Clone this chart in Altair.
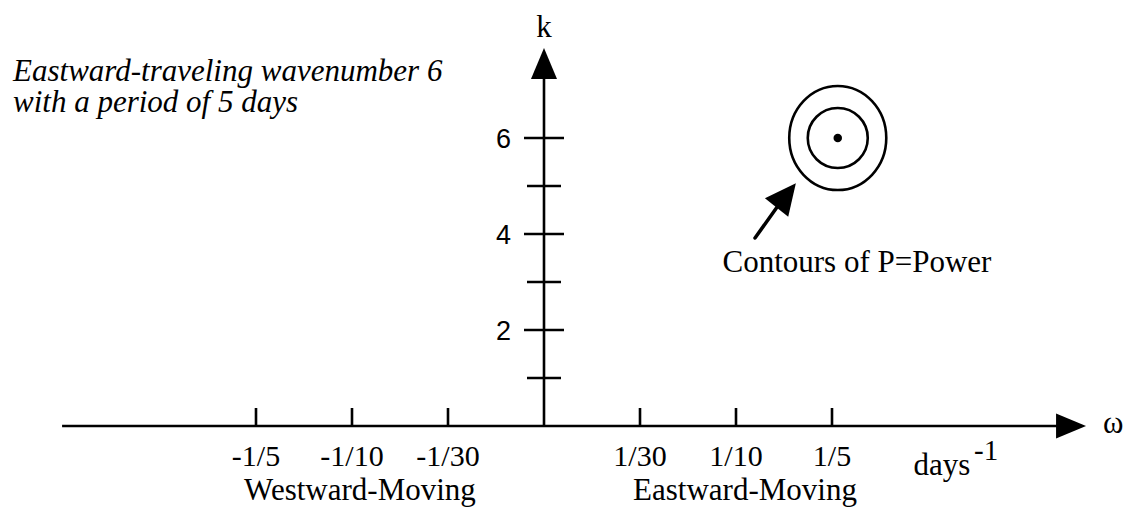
import altair as alt
import pandas as pd

# ---------------- data (diagram units: omega tick index, wavenumber k) ----------------
x_tick_pos = [-3, -2, -1, 1, 2, 3]
x_tick_labels = ["-1/5", "-1/10", "-1/30", "1/30", "1/10", "1/5"]
k_ticks = [1, 2, 3, 4, 5, 6]
k_major = [2, 4, 6]
k_label_text = ["2", "4", "6"]

power_peak = [3.06, 6.0]          # omega index, k of the power maximum
arrow_tail = [2.198, 3.917]       # annotation arrow (tail)
arrow_end = [2.458, 4.646]        # end of arrow shaft
arrow_head = [2.523, 4.807]       # centre of arrow head
x_axis_extent = [-5.02, 5.40]
y_axis_extent = [0.0, 7.40]
x_arrow_pos = [5.49, 0.0]
y_arrow_pos = [0.0, 7.552]

title_lines = ["Eastward-traveling wavenumber 6", "with a period of 5 days"]
title_pos = [-5.531, 7.1875]

# ---------------- scales ----------------
W, H = 1117, 499
PXX, PXY = 96.0, 48.0
X0, Y0 = 544.0, 426.0  # page position of origin
xdom = [(8 - X0) / PXX, (8 + W - X0) / PXX]
ydom = [(Y0 - 8 - H) / PXY, (Y0 - 8) / PXY]
xs = alt.Scale(domain=xdom, nice=False, zero=False)
ys = alt.Scale(domain=ydom, nice=False, zero=False)

SERIF = "Liberation Serif"
SANS = "Liberation Sans"

# ---------------- line segments ----------------
segs = []
segs.append(dict(x=x_axis_extent[0], x2=x_axis_extent[1], y=0.0, y2=0.0))
segs.append(dict(x=0.0, x2=0.0, y=y_axis_extent[0], y2=y_axis_extent[1]))
for k in k_ticks:
    half = (20 if k in k_major else 17) / PXX
    segs.append(dict(x=-half, x2=half, y=k, y2=k))
for xt in x_tick_pos:
    segs.append(dict(x=xt, x2=xt, y=0.0, y2=18 / PXY))
seg_df = pd.DataFrame(segs)

rules = alt.Chart(seg_df).mark_rule(color="black", strokeWidth=2.6).encode(
    x=alt.X("x:Q", scale=xs, axis=None),
    x2="x2:Q",
    y=alt.Y("y:Q", scale=ys, axis=None),
    y2="y2:Q",
)

shaft_df = pd.DataFrame([dict(x=arrow_tail[0], x2=arrow_end[0], y=arrow_tail[1], y2=arrow_end[1])])
shaft = alt.Chart(shaft_df).mark_rule(color="black", strokeWidth=3.5, strokeCap="round").encode(
    x=alt.X("x:Q", scale=xs, axis=None),
    x2="x2:Q",
    y=alt.Y("y:Q", scale=ys, axis=None),
    y2="y2:Q",
)

# ---------------- arrow heads ----------------
tri_axis = "M 0 -1 L 0.839 1 L -0.839 1 Z"
tri_note = "M 0 -1 L 0.96 1 L -0.96 1 Z"
heads_df = pd.DataFrame([
    dict(x=y_arrow_pos[0], y=y_arrow_pos[1], angle=0, size=961),
    dict(x=x_arrow_pos[0], y=x_arrow_pos[1], angle=90, size=900),
])
heads = alt.Chart(heads_df).mark_point(
    shape=tri_axis, filled=True, color="black", opacity=1, strokeWidth=0
).encode(
    x=alt.X("x:Q", scale=xs, axis=None),
    y=alt.Y("y:Q", scale=ys, axis=None),
    angle=alt.Angle("angle:Q", scale=None),
    size=alt.Size("size:Q", scale=None, legend=None),
)
note_head_df = pd.DataFrame([dict(x=arrow_head[0], y=arrow_head[1], angle=38.5, size=961)])
note_head = alt.Chart(note_head_df).mark_point(
    shape=tri_note, filled=True, color="black", opacity=1, strokeWidth=0
).encode(
    x=alt.X("x:Q", scale=xs, axis=None),
    y=alt.Y("y:Q", scale=ys, axis=None),
    angle=alt.Angle("angle:Q", scale=None),
    size=alt.Size("size:Q", scale=None, legend=None),
)

# ---------------- power contours ----------------
peak_df = pd.DataFrame([dict(x=power_peak[0], y=power_peak[1])])
ellipse_path = ("M 0.933 0 C 0.933 0.552 0.515 1 0 1 C -0.515 1 -0.933 0.552 -0.933 0 "
                "C -0.933 -0.552 -0.515 -1 0 -1 C 0.515 -1 0.933 -0.552 0.933 0 Z")
outer = alt.Chart(peak_df).mark_point(
    shape=ellipse_path, filled=False, color="black", opacity=1, strokeWidth=2.6, size=104 * 104
).encode(x=alt.X("x:Q", scale=xs, axis=None), y=alt.Y("y:Q", scale=ys, axis=None))
inner = alt.Chart(peak_df).mark_point(
    shape="circle", filled=False, color="black", opacity=1, strokeWidth=2.6, size=60 * 60
).encode(x=alt.X("x:Q", scale=xs, axis=None), y=alt.Y("y:Q", scale=ys, axis=None))
dot = alt.Chart(peak_df).mark_point(
    shape="circle", filled=True, color="black", opacity=1, strokeWidth=0, size=72
).encode(x=alt.X("x:Q", scale=xs, axis=None), y=alt.Y("y:Q", scale=ys, axis=None))


# ---------------- text ----------------
def text_layer(rows, **kw):
    df = pd.DataFrame(rows)
    return alt.Chart(df).mark_text(color="black", **kw).encode(
        x=alt.X("x:Q", scale=xs, axis=None),
        y=alt.Y("y:Q", scale=ys, axis=None),
        text="t:N",
    )


xlab = text_layer(
    [dict(x=p, y=-0.833, t=t) for p, t in zip(x_tick_pos, x_tick_labels)],
    font=SERIF, fontSize=30, align="center", baseline="alphabetic",
)
klab = text_layer(
    [dict(x=-0.344, y=k, t=t) for k, t in zip(k_major, k_label_text)],
    font=SANS, fontSize=27, align="right", baseline="alphabetic", dy=10,
)
serif_center = text_layer(
    [
        dict(x=0.0, y=8.104, t="k"),
        dict(x=5.93, y=-0.146, t="ω"),
        dict(x=-1.917, y=-1.542, t="Westward-Moving"),
        dict(x=2.094, y=-1.542, t="Eastward-Moving"),
        dict(x=3.26, y=3.208, t="Contours of P=Power"),
        dict(x=4.146, y=-1.021, t="days"),
    ],
    font=SERIF, fontSize=31, align="center", baseline="alphabetic",
)
sup = text_layer(
    [dict(x=4.479, y=-0.708, t="-1")],
    font=SERIF, fontSize=29, align="left", baseline="alphabetic",
)
title = text_layer(
    [dict(x=title_pos[0], y=title_pos[1], t="\n".join(title_lines))],
    font=SERIF, fontSize=31, fontStyle="italic", align="left", baseline="alphabetic",
    lineBreak="\n", lineHeight=31,
)

chart = alt.layer(
    rules, shaft, heads, note_head, outer, inner, dot,
    xlab, klab, serif_center, sup, title,
).properties(
    width=W, height=H, padding=0, autosize=alt.AutoSizeParams(type="none"),
    background="white",
).configure_view(stroke=None)

chart.save("out.html", embed_options={"renderer": "svg", "actions": False})
